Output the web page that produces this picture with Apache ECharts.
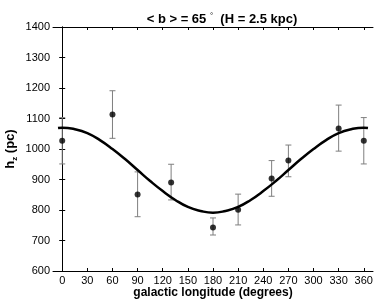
<!DOCTYPE html>
<html><head><meta charset="utf-8">
<script src="https://cdn.jsdelivr.net/npm/echarts@6/dist/echarts.min.js"></script>
<style>html,body{margin:0;padding:0;background:#fff}#c{width:382px;height:301px}</style>
</head><body><div id="c"></div>
<script>
// Observed data (galactic longitude, h_z in pc)
const longitudes = [0, 60, 90, 130, 180, 210, 250, 270, 330, 360];
const hz = [1027, 1113, 851, 890, 743, 801, 903, 962, 1067, 1027];
const errLow = [951, 1035, 778, 833, 718, 751, 845, 909, 993, 951];
const errHigh = [1103, 1191, 925, 950, 774, 852, 962, 1013, 1144, 1103];
// Fitted curve
const curveX = [-5, 0, 15, 30, 45, 60, 75, 90, 105, 120, 135, 150, 165, 180, 195, 210, 225, 240, 255, 270, 285, 300, 315, 330, 345, 360, 365];
const curveY = [1069, 1070, 1065, 1052, 1029, 1000, 967, 931, 895, 862, 833, 810, 797, 791, 797, 810, 833, 862, 895, 931, 967, 1000, 1029, 1052, 1065, 1070, 1069];
const xTicks = [0, 30, 60, 90, 120, 150, 180, 210, 240, 270, 300, 330, 360];
const yTicks = [600, 700, 800, 900, 1000, 1100, 1200, 1300, 1400];

const FONT = 'Liberation Sans, Arial, Helvetica, sans-serif';
const chart = echarts.init(document.getElementById('c'));
const axisLine = {show: true, lineStyle: {color: '#000', width: 1}};
chart.setOption({
  animation: false,
  title: {
    text: '{t|< b > = 65 }{s|°}{t|  (H = 2.5 kpc)}',
    left: 217, top: 7, textAlign: 'center',
    textStyle: {rich: {
      t: {fontFamily: FONT, fontWeight: 'bold', fontSize: 13, color: '#000', lineHeight: 15},
      s: {fontFamily: FONT, fontWeight: 'normal', fontSize: 8, color: '#000', verticalAlign: 'top', lineHeight: 15}
    }}
  },
  grid: {left: 53, right: 9, top: 27, bottom: 30, containLabel: false, outerBoundsMode: 'none'},
  xAxis: [{
    type: 'value', min: -11, max: 371, position: 'bottom',
    axisLine, splitLine: {show: false},
    axisTick: {show: true, inside: true, length: 3, customValues: xTicks, lineStyle: {color: '#000'}},
    axisLabel: {customValues: xTicks, fontFamily: FONT, fontSize: 11, color: '#000', margin: 4},
    name: 'galactic longitude (degrees)', nameLocation: 'middle', nameGap: 16, nameMoveOverlap: false,
    nameTextStyle: {fontFamily: FONT, fontWeight: 'bold', fontSize: 12, color: '#000'}
  }, {
    type: 'value', min: -11, max: 371, position: 'top',
    axisLine, splitLine: {show: false},
    axisTick: {show: true, inside: true, length: 3, customValues: xTicks, lineStyle: {color: '#000'}},
    axisLabel: {show: false}
  }],
  yAxis: [{
    type: 'value', min: 600, max: 1400, interval: 100, position: 'left',
    axisLine, splitLine: {show: false},
    axisTick: {show: true, inside: true, length: 3, customValues: yTicks, lineStyle: {color: '#000'}},
    axisLabel: {customValues: yTicks, fontFamily: FONT, fontSize: 11, color: '#000', margin: 3, formatter: v => String(v)},
    name: '{t|h}{z|z}{t| (pc)}', nameLocation: 'middle', nameGap: 34, nameRotate: 90, nameMoveOverlap: false,
    nameTextStyle: {rich: {
      t: {fontFamily: FONT, fontWeight: 'bold', fontSize: 13, color: '#000', lineHeight: 18},
      z: {fontFamily: FONT, fontWeight: 'bold', fontSize: 8, color: '#000', verticalAlign: 'bottom', lineHeight: 18}
    }}
  }, {
    type: 'value', min: 600, max: 1400, interval: 100, position: 'right',
    axisLine, splitLine: {show: false},
    axisTick: {show: true, inside: true, length: 3, lineStyle: {color: '#000'}},
    axisLabel: {show: false}
  }],
  series: [{
    type: 'custom',
    data: longitudes.map((l, i) => [l, errLow[i], errHigh[i]]),
    renderItem: function (params, api) {
      const lo = api.coord([api.value(0), api.value(1)]);
      const hi = api.coord([api.value(0), api.value(2)]);
      const w = 3;
      const st = {stroke: '#7f7f7f', lineWidth: 1};
      return {type: 'group', children: [
        {type: 'line', shape: {x1: lo[0], y1: lo[1], x2: hi[0], y2: hi[1]}, style: st},
        {type: 'line', shape: {x1: lo[0] - w, y1: lo[1], x2: lo[0] + w, y2: lo[1]}, style: st},
        {type: 'line', shape: {x1: hi[0] - w, y1: hi[1], x2: hi[0] + w, y2: hi[1]}, style: st}
      ]};
    },
    z: 2
  }, {
    type: 'line', data: curveX.map((x, i) => [x, curveY[i]]),
    smooth: true, showSymbol: false, symbol: 'none',
    lineStyle: {color: '#000', width: 2.5}, z: 3
  }, {
    type: 'scatter', data: longitudes.map((l, i) => [l, hz[i]]),
    symbol: 'circle', symbolSize: 6, itemStyle: {color: '#000'}, z: 4
  }]
});
</script></body></html>
